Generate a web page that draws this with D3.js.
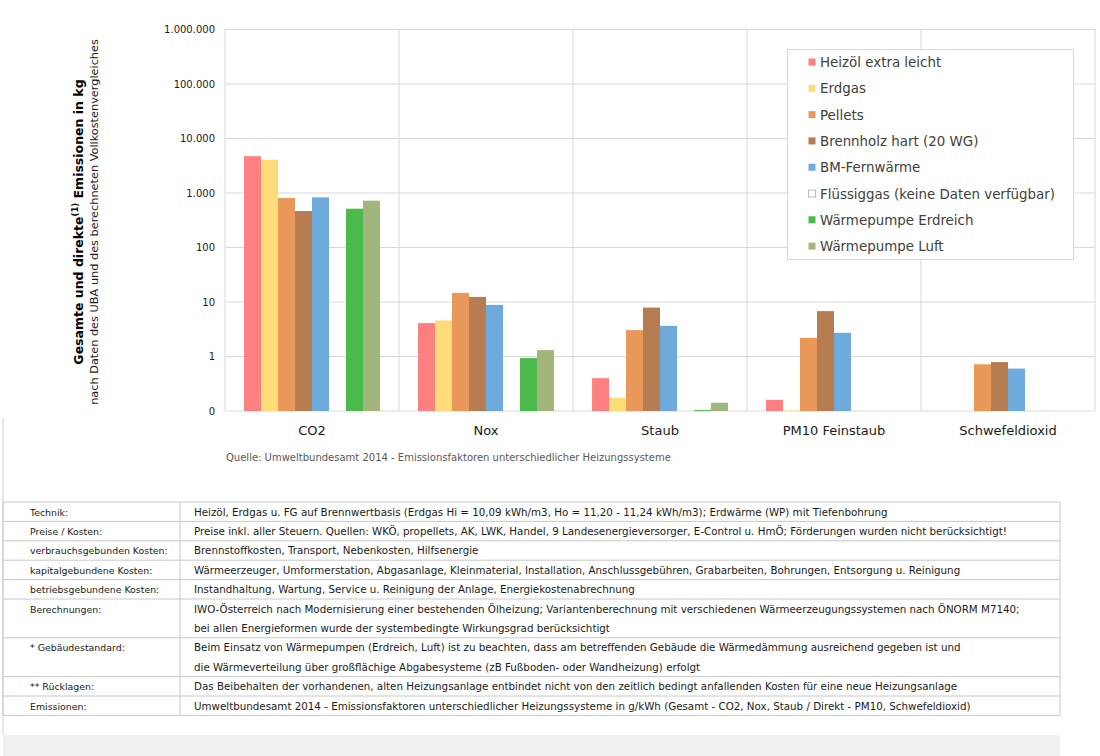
<!DOCTYPE html>
<html>
<head>
<meta charset="utf-8">
<script src="https://cdn.jsdelivr.net/npm/d3@7"></script>
<style>
  body { margin: 0; background: #fff; }
  svg { display: block; font-family: "DejaVu Sans", Verdana, sans-serif; }
</style>
</head>
<body>
<svg id="chart" width="1100" height="756"></svg>
<script>
// categories + series (log scale)
let categories = ['CO2', 'Nox', 'Staub', 'PM10 Feinstaub', 'Schwefeldioxid'];
let seriesNames = ['Heizöl extra leicht', 'Erdgas', 'Pellets', 'Brennholz hart (20 WG)', 'BM-Fernwärme',
  'Flüssiggas (keine Daten verfügbar)', 'Wärmepumpe Erdreich', 'Wärmepumpe Luft'];
let heizoel   = [4740, 4.1, 0.40, 0.16, null];
let erdgas    = [4070, 4.6, 0.175, 0.102, null];
let pellets   = [807, 14.7, 3.05, 2.2, 0.72];
let brennholz = [466, 12.4, 7.9, 6.8, 0.79];
let fernwaerme = [830, 8.85, 3.65, 2.72, 0.6];
let fluessiggas = [null, null, null, null, null];
let wpErdreich = [515, 0.935, 0.104, null, null];
let wpLuft     = [723, 1.31, 0.142, null, null];
let seriesValues = [heizoel, erdgas, pellets, brennholz, fernwaerme, fluessiggas, wpErdreich, wpLuft];
let colors = ['#ff8080', '#ffdc7a', '#ea985a', '#b67d52', '#6eaadb', '#ffffff', '#4bb94b', '#a2b67b'];
let yTicks = [0.1, 1, 10, 100, 1000, 10000, 100000, 1000000];

let tableRows = [
  ['Technik:', ['Heizöl, Erdgas u. FG auf Brennwertbasis (Erdgas Hi = 10,09 kWh/m3, Ho = 11,20 - 11,24 kWh/m3); Erdwärme (WP) mit Tiefenbohrung']],
  ['Preise / Kosten:', ['Preise inkl. aller Steuern. Quellen: WKÖ, propellets, AK, LWK, Handel, 9 Landesenergieversorger, E-Control u. HmÖ; Förderungen wurden nicht berücksichtigt!']],
  ['verbrauchsgebunden Kosten:', ['Brennstoffkosten, Transport, Nebenkosten, Hilfsenergie']],
  ['kapitalgebundene Kosten:', ['Wärmeerzeuger, Umformerstation, Abgasanlage, Kleinmaterial, Installation, Anschlussgebühren, Grabarbeiten, Bohrungen, Entsorgung u. Reinigung']],
  ['betriebsgebundene Kosten:', ['Instandhaltung, Wartung, Service u. Reinigung der Anlage, Energiekostenabrechnung']],
  ['Berechnungen:', ['IWO-Österreich nach Modernisierung einer bestehenden Ölheizung; Variantenberechnung mit verschiedenen Wärmeerzeugungssystemen nach ÖNORM M7140;',
    'bei allen Energieformen wurde der systembedingte Wirkungsgrad berücksichtigt']],
  ['* Gebäudestandard:', ['Beim Einsatz von Wärmepumpen (Erdreich, Luft)  ist zu beachten, dass am betreffenden Gebäude die Wärmedämmung ausreichend gegeben ist und',
    'die Wärmeverteilung über großflächige Abgabesysteme (zB Fußboden- oder Wandheizung) erfolgt']],
  ['** Rücklagen:', ['Das Beibehalten der vorhandenen, alten Heizungsanlage entbindet nicht von den zeitlich bedingt anfallenden Kosten für eine neue Heizungsanlage']],
  ['Emissionen:', ['Umweltbundesamt 2014 - Emissionsfaktoren unterschiedlicher Heizungssysteme in g/kWh (Gesamt - CO2, Nox, Staub / Direkt - PM10, Schwefeldioxid)']]
];

let svg = d3.select('#chart');
let plot = { left: 225, right: 1095, top: 29.5, bottom: 411 };

let x0 = d3.scaleBand().domain(categories).range([plot.left, plot.right]).paddingInner(0).paddingOuter(0);
let x1 = d3.scaleBand().domain(d3.range(seriesNames.length)).range([0, x0.bandwidth()]).paddingOuter(1.12).paddingInner(0);
let y = d3.scaleLog().domain([0.1, 1000000]).range([plot.bottom, plot.top]);

let de = d3.formatLocale({ decimal: ',', thousands: '.', grouping: [3], currency: ['', '€'] });
let fmt = de.format(',.0f');

// grid
let grid = svg.append('g');
grid.selectAll('.hg').data(yTicks).enter().append('line')
  .attr('x1', plot.left).attr('x2', plot.right)
  .attr('y1', d => y(d)).attr('y2', d => y(d))
  .attr('stroke', '#d9d9d9').attr('stroke-width', 1);
let bounds = categories.map(c => x0(c)).concat([plot.right]);
grid.selectAll('.vg').data(bounds).enter().append('line')
  .attr('x1', d => d).attr('x2', d => d)
  .attr('y1', plot.top).attr('y2', plot.bottom)
  .attr('stroke', '#d9d9d9').attr('stroke-width', 1);

// y axis labels
let yAxis = svg.append('g').attr('transform', 'translate(' + (plot.left - 10) + ',0)')
  .call(d3.axisLeft(y).tickValues(yTicks).tickFormat(fmt).tickSize(0).tickPadding(0));
yAxis.select('.domain').remove();
yAxis.selectAll('text').attr('font-family', '"DejaVu Sans", Verdana, sans-serif')
  .attr('font-size', '10px').attr('fill', '#1a1a1a');

// bars
let groups = svg.append('g').selectAll('g').data(categories).enter().append('g')
  .attr('transform', d => 'translate(' + x0(d) + ',0)');
groups.selectAll('rect')
  .data((c, ci) => seriesValues.map((s, si) => ({ si: si, v: s[ci] })).filter(d => d.v != null))
  .enter().append('rect')
  .attr('x', d => x1(d.si))
  .attr('width', x1.bandwidth())
  .attr('y', d => y(d.v))
  .attr('height', d => plot.bottom - y(d.v))
  .attr('fill', d => colors[d.si]);

// category labels
svg.append('g').selectAll('text').data(categories).enter().append('text')
  .attr('x', d => x0(d) + x0.bandwidth() / 2)
  .attr('y', 435)
  .attr('text-anchor', 'middle')
  .attr('font-size', '13px')
  .attr('fill', '#1a1a1a')
  .text(d => d);

// source
svg.append('text').attr('x', 226).attr('y', 461)
  .attr('font-size', '10px').attr('fill', '#595959')
  .text('Quelle: Umweltbundesamt 2014 - Emissionsfaktoren unterschiedlicher Heizungssysteme');

// axis titles
let t1 = svg.append('text').attr('transform', 'translate(83,222) rotate(-90)')
  .attr('text-anchor', 'middle').attr('font-size', '12.5px').attr('font-weight', 'bold').attr('fill', '#000');
t1.append('tspan').text('Gesamte und direkte');
t1.append('tspan').attr('font-size', '8.5px').attr('dy', -5).text('(1)');
t1.append('tspan').attr('dy', 5).text(' Emissionen in kg');
svg.append('text').attr('transform', 'translate(98,222) rotate(-90)')
  .attr('text-anchor', 'middle').attr('font-size', '11.3px').attr('fill', '#1a1a1a')
  .text('nach Daten des UBA und des berechneten Vollkostenvergleiches');

// legend
let legend = svg.append('g');
legend.append('rect').attr('x', 787.5).attr('y', 49.5).attr('width', 286).attr('height', 210)
  .attr('fill', '#fff').attr('stroke', '#d9d9d9');
let li = legend.selectAll('.li').data(seriesNames).enter().append('g')
  .attr('transform', (d, i) => 'translate(808,' + (62 + i * 26.3) + ')');
li.append('rect').attr('x', 0.5).attr('y', -3.5).attr('width', 7).attr('height', 7)
  .attr('fill', (d, i) => colors[i])
  .attr('stroke', (d, i) => i === 5 ? '#bfbfbf' : 'none');
li.append('text').attr('x', 12).attr('y', 5).attr('font-size', '13.4px').attr('fill', '#404040')
  .text(d => d);

// left frame line of lower area
svg.append('line').attr('x1', 3).attr('x2', 3).attr('y1', 418).attr('y2', 735)
  .attr('stroke', '#d0d0d0');

// table
let rowY = [502];
tableRows.forEach(r => rowY.push(rowY[rowY.length - 1] + 19.4 * r[1].length));
let tbl = svg.append('g');
tbl.selectAll('.hl').data(rowY).enter().append('line')
  .attr('x1', 3).attr('x2', 1060).attr('y1', d => d).attr('y2', d => d)
  .attr('stroke', '#c8c8c8');
[3, 180, 1060].forEach(xx => {
  tbl.append('line').attr('x1', xx).attr('x2', xx).attr('y1', rowY[0]).attr('y2', rowY[rowY.length - 1])
    .attr('stroke', '#c8c8c8');
});
let rows = tbl.selectAll('.row').data(tableRows).enter().append('g');
rows.append('text').attr('x', 30).attr('y', (d, i) => rowY[i] + 13.5)
  .attr('font-size', '9.4px').attr('fill', '#1a1a1a').text(d => d[0]);
rows.each(function (d, i) {
  d3.select(this).selectAll('.v').data(d[1]).enter().append('text')
    .attr('x', 194).attr('y', (t, j) => rowY[i] + 13.5 + j * 19.4)
    .attr('font-size', '10.3px').attr('fill', '#1a1a1a').text(t => t);
});

// grey band at bottom
svg.append('rect').attr('x', 3).attr('y', 735).attr('width', 1057).attr('height', 21).attr('fill', '#f0f0f0');
</script>
</body>
</html>
